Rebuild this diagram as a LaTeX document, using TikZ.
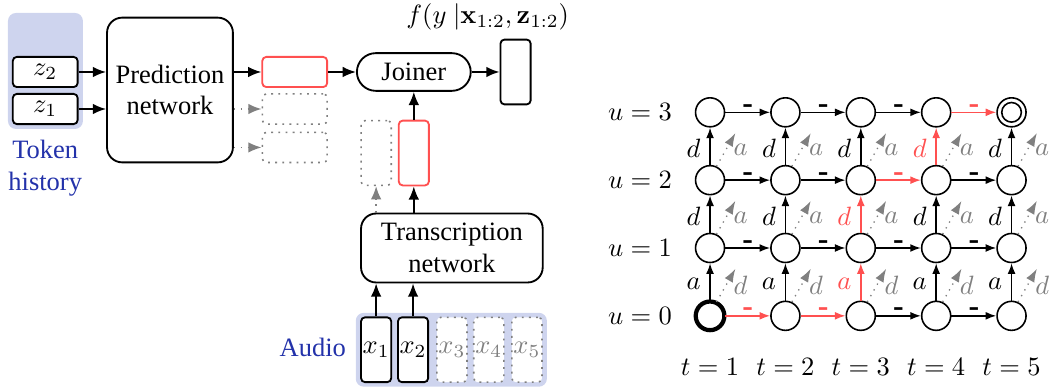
\documentclass[tikz,border=0pt]{standalone}
\usepackage[no-math]{fontspec}
\setmainfont{Liberation Serif}
\usetikzlibrary{arrows.meta}
\definecolor{histblue}{RGB}{35,50,170}
\definecolor{bgblue}{RGB}{206,212,238}
\definecolor{pathred}{RGB}{255,80,80}
\tikzset{
  net/.style={draw,rounded corners=0.2cm,line width=0.7pt,align=center,inner sep=0pt},
  vec/.style={draw,fill=white,rounded corners=1.5pt,line width=0.7pt,minimum width=0.86cm,minimum height=0.4cm,inner sep=0pt},
  vvec/.style={vec,minimum width=0.4cm,minimum height=0.86cm},
  unused/.style={draw=gray,dotted,line width=0.6pt},
  flow/.style={line width=0.7pt,-{Latex[length=5pt,width=4pt]}},
  flowgray/.style={gray,dotted,line width=0.6pt,-{Latex[length=5pt,width=4pt]}},
  lattice/.style={circle,draw,line width=0.6pt,minimum size=0.385cm,inner sep=0pt},
  gedge/.style={line width=0.6pt,-{Latex[length=4pt,width=3pt]}},
  galt/.style={gray,dotted,line width=0.5pt,-{Latex[length=5pt,width=3.5pt]}},
  glabel/.style={inner sep=1pt},
  blank/.style={glabel,font=\bfseries\large}
}
\begin{document}
\begin{tikzpicture}
  \useasboundingbox (0,0) rectangle (13.93,-5.16);
  % backgrounds
  \fill[bgblue,rounded corners=3pt] (0.106,-0.172) rectangle (1.10,-1.711);
  \fill[bgblue,rounded corners=3pt] (4.72,-4.15) rectangle (7.255,-5.13);
  % prediction side
  \node[vec] (z2) at (0.60,-0.955) {$z_2$};
  \node[vec] (z1) at (0.60,-1.446) {$z_1$};
  \node[histblue,align=center] (hist) at (0.60,-2.23) {Token\\history};
  \node[net,minimum width=1.67cm,minimum height=1.92cm] (pred) at (2.255,-1.194) {Prediction\\network};
  \node[vec,draw=pathred] (pout1) at (3.91,-0.955) {};
  \node[vec,unused] (pout2) at (3.91,-1.446) {};
  \node[vec,unused] (pout3) at (3.91,-1.956) {};
  \draw[flow] (z2.east) -- (z2.east -| pred.west);
  \draw[flow] (z1.east) -- (z1.east -| pred.west);
  \draw[flow] (pout1 -| pred.east) -- (pout1.west);
  \draw[flowgray] (pout2 -| pred.east) -- (pout2.west);
  \draw[flowgray] (pout3 -| pred.east) -- (pout3.west);
  % joiner
  \node[draw,rounded corners=0.25cm,line width=0.7pt,minimum width=1.51cm,minimum height=0.5cm] (joiner) at (5.49,-0.955) {Joiner};
  \node[vvec] (out) at (6.84,-0.955) {};
  \node (fout) at (6.47,-0.225) {$f(y\ |\mathbf{x}_{1:2},\mathbf{z}_{1:2})$};
  \draw[flow] (pout1.east) -- (joiner.west);
  \draw[flow] (joiner.east) -- (out.west);
  % transcription side
  \node[net,minimum width=2.41cm,minimum height=0.915cm] (trans) at (5.995,-3.29) {Transcription\\network};
  \node[vvec,unused] (tr1) at (4.99,-2.03) {};
  \node[vvec,draw=pathred] (tr2) at (5.49,-2.03) {};
  \draw[flowgray] (trans.north -| tr1) -- (tr1.south);
  \draw[flow] (trans.north -| tr2) -- (tr2.south);
  \draw[flow] (tr2.north) -- (joiner.south);
  \node[vvec] (x1) at (4.99,-4.64) {$x_1$};
  \node[vvec] (x2) at (5.48,-4.64) {$x_2$};
  \node[vvec,unused,text=gray] (x3) at (5.995,-4.64) {$x_3$};
  \node[vvec,unused,text=gray] (x4) at (6.485,-4.64) {$x_4$};
  \node[vvec,unused,text=gray] (x5) at (6.99,-4.64) {$x_5$};
  \node[histblue] (audio) at (4.15,-4.615) {Audio};
  \draw[flow] (x1.north) -- (x1.north |- trans.south);
  \draw[flow] (x2.north) -- (x2.north |- trans.south);
  % alignment lattice
  \foreach \t in {1,...,5}{
    \foreach \u in {0,...,3}
      \node[lattice] (g\t\u) at (8.42+\t,-4.19+0.9*\u) {};
    \node (t\t) at (8.42+\t,-4.87) {$t=\t$};
  }
  \foreach \u in {0,...,3}
    \node (u\u) at (8.49,-4.19+0.9*\u) {$u=\u$};
  \draw[line width=1.6pt] (g10.center) circle[radius=0.19cm];
  \draw[line width=0.6pt] (g53.center) circle[radius=0.13cm];
  \foreach \t/\u/\c [evaluate=\t as \s using int(\t+1)] in
    {1/0/pathred,2/0/pathred,3/0/black,4/0/black,
     1/1/black,2/1/black,3/1/black,4/1/black,
     1/2/black,2/2/black,3/2/pathred,4/2/black,
     1/3/black,2/3/black,3/3/black,4/3/pathred}
    \draw[gedge,\c] (g\t\u) -- node[blank,above=-1.7pt,text=\c] {-} (g\s\u);
  \foreach \t/\u/\l/\m/\c [evaluate=\u as \v using int(\u+1)] in
    {1/0/a/d/black,2/0/a/d/black,3/0/a/d/pathred,4/0/a/d/black,5/0/a/d/black,
     1/1/d/a/black,2/1/d/a/black,3/1/d/a/pathred,4/1/d/a/black,5/1/d/a/black,
     1/2/d/a/black,2/2/d/a/black,3/2/d/a/black,4/2/d/a/pathred,5/2/d/a/black}{
    \draw[gedge,\c] (g\t\u) -- node[glabel,left=2.3pt,pos=0.45,text=\c] {$\l$} (g\t\v);
    \draw[galt] (g\t\u.65) -- ++(0.25,0.44) node[glabel,shift={(0.07,-0.225)},text=gray] {$\m$};
  }
\end{tikzpicture}
\end{document}
